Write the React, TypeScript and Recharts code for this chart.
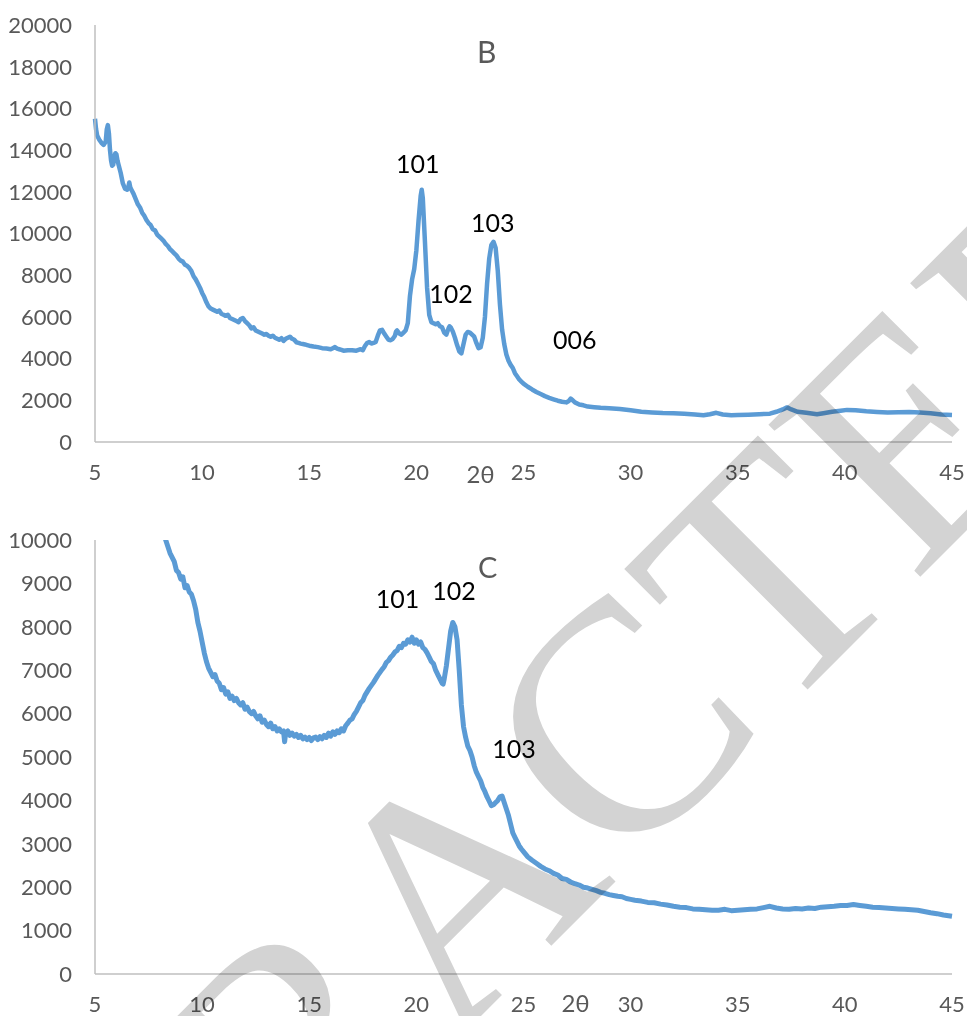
import React from "react";
import { LineChart, Line, XAxis, YAxis, ReferenceDot } from "recharts";

// Sample B diffractogram (2θ in degrees, intensity in counts)
const bAngle = [
  5.0, 5.05, 5.1, 5.2, 5.3, 5.4, 5.5, 5.55, 5.6, 5.65, 5.7, 5.75, 5.8, 5.85, 5.9, 5.95, 6.0, 6.05, 6.1, 6.2,
  6.3, 6.4, 6.5, 6.55, 6.6, 6.65, 6.7, 6.8, 6.9, 7.0, 7.1, 7.2, 7.3, 7.4, 7.5, 7.6, 7.7, 7.8, 7.9, 8.0,
  8.1, 8.2, 8.3, 8.4, 8.5, 8.6, 8.7, 8.8, 8.9, 9.0, 9.1, 9.2, 9.3, 9.4, 9.5, 9.6, 9.7, 9.8, 9.9, 10.0,
  10.1, 10.2, 10.3, 10.4, 10.5, 10.6, 10.7, 10.8, 10.9, 11.0, 11.1, 11.2, 11.3, 11.4, 11.5, 11.6, 11.7, 11.8, 11.9, 12.0,
  12.1, 12.2, 12.3, 12.4, 12.5, 12.6, 12.7, 12.8, 12.9, 13.0, 13.1, 13.2, 13.3, 13.4, 13.5, 13.6, 13.7, 13.8, 13.9, 14.0,
  14.1, 14.2, 14.3, 14.4, 14.5, 14.6, 14.7, 14.8, 14.9, 15.0, 15.2, 15.4, 15.6, 15.8, 16.0, 16.1, 16.2, 16.3, 16.4, 16.5,
  16.6, 16.8, 17.0, 17.2, 17.4, 17.5, 17.6, 17.7, 17.8, 17.9, 18.0, 18.1, 18.2, 18.3, 18.4, 18.5, 18.6, 18.7, 18.8, 18.9,
  19.0, 19.05, 19.1, 19.2, 19.3, 19.4, 19.5, 19.6, 19.7, 19.8, 19.9, 20.0, 20.1, 20.2, 20.25, 20.3, 20.4, 20.5, 20.6, 20.7,
  20.8, 20.9, 21.0, 21.1, 21.2, 21.3, 21.4, 21.5, 21.55, 21.6, 21.7, 21.8, 21.9, 22.0, 22.1, 22.2, 22.3, 22.4, 22.5, 22.6,
  22.7, 22.8, 22.9, 23.0, 23.1, 23.2, 23.3, 23.4, 23.5, 23.6, 23.7, 23.8, 23.9, 24.0, 24.1, 24.2, 24.3, 24.4, 24.5, 24.6,
  24.7, 24.8, 24.9, 25.0, 25.2, 25.4, 25.6, 25.8, 26.0, 26.2, 26.4, 26.6, 26.8, 27.0, 27.1, 27.2, 27.3, 27.4, 27.6, 27.8,
  28.0, 28.3, 28.6, 29.0, 29.5, 30.0, 30.5, 31.0, 31.5, 32.0, 32.5, 33.0, 33.4, 33.7, 34.0, 34.3, 34.7, 35.0, 35.5, 36.0,
  36.5, 36.8, 37.1, 37.3, 37.5, 37.8, 38.2, 38.7, 39.0, 39.4, 39.8, 40.1, 40.5, 41.0, 41.5, 42.0, 42.5, 43.0, 43.5, 44.0,
  44.5, 45.0,
];
const bCounts = [
  15500, 15000, 14700, 14500, 14350, 14250, 14400, 15000, 15200, 14800, 14000, 13500, 13250, 13300, 13700, 13850, 13800, 13500, 13300, 12900,
  12400, 12150, 12100, 12200, 12450, 12200, 12100, 11900, 11650, 11400, 11250, 11000, 10850, 10650, 10500, 10400, 10200, 10150, 9950, 9850,
  9750, 9650, 9500, 9400, 9250, 9150, 9050, 8950, 8800, 8700, 8650, 8500, 8450, 8350, 8200, 7950, 7800, 7600, 7400, 7150,
  6950, 6700, 6500, 6400, 6350, 6300, 6250, 6300, 6150, 6100, 6050, 6100, 5950, 5900, 5850, 5800, 5750, 5900, 5950, 5800,
  5700, 5600, 5450, 5500, 5350, 5300, 5250, 5200, 5150, 5180, 5100, 5050, 5100, 5000, 4950, 4900, 4980, 4850, 4950, 5000,
  5050, 4950, 4900, 4780, 4750, 4720, 4700, 4680, 4650, 4620, 4580, 4550, 4500, 4480, 4450, 4500, 4550, 4480, 4450, 4420,
  4380, 4400, 4400, 4380, 4450, 4400, 4600, 4750, 4800, 4720, 4750, 4800, 5100, 5350, 5380, 5200, 5050, 4900, 4880, 4950,
  5100, 5300, 5350, 5200, 5150, 5250, 5350, 5700, 7000, 7800, 8300, 9200, 10600, 11800, 12100, 11700, 9600, 7400, 6100, 5750,
  5700, 5650, 5700, 5550, 5500, 5250, 5150, 5450, 5550, 5500, 5300, 5000, 4650, 4350, 4250, 4700, 5150, 5280, 5250, 5150,
  5050, 4750, 4500, 4550, 5000, 6000, 7600, 8800, 9450, 9600, 9300, 8200, 6600, 5400, 4700, 4200, 3900, 3700, 3550, 3300,
  3150, 3000, 2900, 2800, 2650, 2520, 2400, 2300, 2200, 2120, 2050, 1980, 1930, 1900, 1950, 2080, 2000, 1900, 1800, 1760,
  1700, 1670, 1640, 1620, 1580, 1520, 1450, 1420, 1390, 1380, 1360, 1320, 1280, 1330, 1400, 1320, 1280, 1290, 1310, 1330,
  1360, 1450, 1560, 1660, 1560, 1450, 1400, 1330, 1380, 1450, 1500, 1540, 1520, 1470, 1440, 1420, 1430, 1440, 1410, 1380,
  1320, 1300,
];

// Sample C diffractogram; the low-angle tail runs above the 10000 ceiling and is clipped
const cAngle = [
  7.5, 7.8, 8.0, 8.2, 8.3, 8.4, 8.5, 8.6, 8.7, 8.8, 8.9, 9.0, 9.1, 9.2, 9.3, 9.4, 9.5, 9.6, 9.7, 9.8,
  9.9, 10.0, 10.1, 10.2, 10.3, 10.4, 10.5, 10.6, 10.7, 10.8, 10.9, 11.0, 11.1, 11.2, 11.3, 11.4, 11.5, 11.6, 11.7, 11.8,
  11.9, 12.0, 12.1, 12.2, 12.3, 12.4, 12.5, 12.6, 12.7, 12.8, 12.9, 13.0, 13.1, 13.2, 13.3, 13.4, 13.5, 13.6, 13.7, 13.8,
  13.85, 13.9, 14.0, 14.1, 14.2, 14.3, 14.4, 14.5, 14.6, 14.7, 14.8, 14.9, 15.0, 15.1, 15.2, 15.3, 15.4, 15.5, 15.6, 15.7,
  15.8, 15.9, 16.0, 16.1, 16.2, 16.3, 16.4, 16.5, 16.6, 16.7, 16.8, 16.9, 17.0, 17.1, 17.2, 17.3, 17.4, 17.5, 17.6, 17.7,
  17.8, 17.9, 18.0, 18.1, 18.2, 18.3, 18.4, 18.5, 18.6, 18.7, 18.8, 18.9, 19.0, 19.1, 19.2, 19.3, 19.4, 19.5, 19.6, 19.7,
  19.8, 19.9, 20.0, 20.1, 20.2, 20.3, 20.4, 20.5, 20.6, 20.7, 20.8, 20.9, 21.0, 21.1, 21.2, 21.25, 21.3, 21.4, 21.5, 21.6,
  21.7, 21.8, 21.9, 22.0, 22.1, 22.2, 22.3, 22.4, 22.5, 22.6, 22.7, 22.8, 22.9, 23.0, 23.1, 23.2, 23.3, 23.4, 23.5, 23.6,
  23.7, 23.8, 23.9, 24.0, 24.1, 24.2, 24.3, 24.4, 24.5, 24.6, 24.7, 24.8, 24.9, 25.0, 25.2, 25.4, 25.6, 25.8, 26.0, 26.2,
  26.4, 26.6, 26.8, 27.0, 27.2, 27.4, 27.6, 27.8, 28.0, 28.2, 28.4, 28.6, 28.8, 29.0, 29.2, 29.4, 29.6, 29.8, 30.0, 30.2,
  30.5, 30.8, 31.1, 31.4, 31.7, 32.0, 32.3, 32.6, 32.9, 33.2, 33.5, 33.8, 34.1, 34.4, 34.7, 35.0, 35.3, 35.6, 35.9, 36.2,
  36.5, 36.8, 37.1, 37.4, 37.7, 38.0, 38.3, 38.6, 38.9, 39.2, 39.5, 39.8, 40.1, 40.4, 40.7, 41.0, 41.3, 41.6, 41.9, 42.2,
  42.5, 42.8, 43.1, 43.4, 43.7, 44.0, 44.3, 44.6, 45.0,
];
const cCounts = [
  11600, 10900, 10500, 10150, 10000, 9850, 9700, 9600, 9500, 9300, 9250, 9100, 9150, 8900, 8950, 8800, 8750, 8600, 8400, 8100,
  7900, 7650, 7400, 7200, 7050, 6950, 6850, 6900, 6750, 6700, 6550, 6600, 6450, 6500, 6350, 6400, 6300, 6350, 6250, 6200,
  6250, 6100, 6150, 6050, 6000, 6050, 5950, 5880, 5950, 5800, 5850, 5750, 5700, 5780, 5650, 5700, 5600, 5650, 5580, 5600,
  5350, 5550, 5600, 5500, 5550, 5480, 5520, 5450, 5500, 5420, 5460, 5400, 5450, 5380, 5440, 5460, 5400, 5470, 5420, 5500,
  5450, 5550, 5480, 5580, 5520, 5600, 5560, 5650, 5600, 5720, 5780, 5850, 5880, 5980, 6050, 6150, 6250, 6300, 6420, 6500,
  6580, 6650, 6720, 6800, 6880, 6950, 7020, 7080, 7180, 7220, 7300, 7350, 7420, 7450, 7550, 7520, 7620, 7600, 7700, 7650,
  7760, 7620, 7700, 7600, 7650, 7520, 7480, 7400, 7300, 7200, 7150, 7000, 6900, 6800, 6700, 6680, 6800, 7100, 7500, 7900,
  8100, 8000, 7700, 7000, 6200, 5700, 5450, 5250, 5150, 5000, 4800, 4650, 4550, 4450, 4300, 4200, 4080, 3980, 3880, 3900,
  3950, 4000, 4080, 4100, 3950, 3800, 3650, 3450, 3250, 3150, 3050, 2950, 2880, 2820, 2700, 2620, 2550, 2480, 2420, 2380,
  2320, 2280, 2200, 2180, 2120, 2080, 2050, 2000, 1980, 1950, 1920, 1880, 1860, 1830, 1810, 1790, 1780, 1740, 1720, 1700,
  1680, 1650, 1640, 1610, 1590, 1560, 1540, 1530, 1500, 1490, 1480, 1470, 1470, 1490, 1460, 1470, 1480, 1490, 1500, 1530,
  1560, 1520, 1500, 1490, 1510, 1500, 1520, 1510, 1540, 1550, 1560, 1580, 1580, 1600, 1580, 1560, 1540, 1530, 1520, 1510,
  1500, 1490, 1480, 1470, 1440, 1410, 1390, 1360, 1330,
];

const angleTicks = [5, 10, 15, 20, 25, 30, 35, 40, 45];
const bTicks = [0, 2000, 4000, 6000, 8000, 10000, 12000, 14000, 16000, 18000, 20000];
const cTicks = [0, 1000, 2000, 3000, 4000, 5000, 6000, 7000, 8000, 9000, 10000];

// Miller-index annotations: [label, 2θ, counts]
const bPeaks: [string, number, number][] = [
  ["101", 20.06, 13330],
  ["102", 21.62, 7090],
  ["103", 23.56, 10520],
  ["006", 27.39, 4880],
];
const cPeaks: [string, number, number][] = [
  ["101", 19.12, 8640],
  ["102", 21.76, 8825],
  ["103", 24.56, 5185],
];

const bData = bAngle.map((angle, i) => ({ angle, counts: bCounts[i] }));
const cData = cAngle.map((angle, i) => ({ angle, counts: cCounts[i] }));

const FONT = "Lato, 'Open Sans', sans-serif";
const AXIS = "#bfbfbf";
const TEXT = "#595959";
const LINE = "#5b9bd5";

function Pattern({
  data,
  peaks,
  yTicks,
  yMax,
  height,
  marginTop,
  marginBottom,
  titleDx,
  titleDy,
  strokeWidth,
}: {
  data: { angle: number; counts: number }[];
  peaks: [string, number, number][];
  yTicks: number[];
  yMax: number;
  height: number;
  marginTop: number;
  marginBottom: number;
  titleDx: number;
  titleDy: number;
  strokeWidth: number;
}) {
  return (
    <LineChart
      width={967}
      height={height}
      data={data}
      margin={{ top: marginTop, right: 15, left: 15, bottom: marginBottom }}
    >
      <XAxis
        dataKey="angle"
        type="number"
        domain={[5, 45]}
        ticks={angleTicks}
        height={30}
        stroke={AXIS}
        strokeWidth={1.5}
        tickLine={false}
        tickSize={0}
        tickMargin={22}
        tick={{ fill: TEXT, fontSize: 22, fontFamily: FONT }}
        label={{
          value: "2θ",
          position: "insideTop",
          dx: titleDx,
          dy: titleDy,
          fill: TEXT,
          fontSize: 24,
          fontFamily: FONT,
        }}
      />
      <YAxis
        type="number"
        domain={[0, yMax]}
        ticks={yTicks}
        allowDataOverflow
        width={80}
        stroke={AXIS}
        strokeWidth={1.5}
        tickLine={false}
        tickSize={0}
        tickMargin={23}
        tick={{ fill: TEXT, fontSize: 22, fontFamily: FONT }}
      />
      <Line
        type="linear"
        dataKey="counts"
        stroke={LINE}
        strokeWidth={strokeWidth}
        strokeLinejoin="round"
        dot={false}
        isAnimationActive={false}
      />
      {peaks.map(([name, x, y]) => (
        <ReferenceDot
          key={name}
          x={x}
          y={y}
          r={0}
          fill="none"
          stroke="none"
          label={{ value: name, position: "center", fill: "#000000", fontSize: 25, fontFamily: FONT }}
        />
      ))}
    </LineChart>
  );
}

export default function App() {
  return (
    <div
      style={{
        position: "absolute",
        left: 0,
        top: 0,
        width: 967,
        height: 1016,
        background: "#ffffff",
        overflow: "hidden",
        fontFamily: FONT,
      }}
    >
      <div style={{ position: "absolute", left: 0, top: 0 }}>
        <Pattern
          data={bData}
          peaks={bPeaks}
          yTicks={bTicks}
          yMax={20000}
          height={490}
          marginTop={25}
          marginBottom={18}
          titleDx={-43}
          titleDy={19}
          strokeWidth={4.5}
        />
      </div>
      <div style={{ position: "absolute", left: 0, top: 500 }}>
        <Pattern
          data={cData}
          peaks={cPeaks}
          yTicks={cTicks}
          yMax={10000}
          height={516}
          marginTop={40}
          marginBottom={12}
          titleDx={52}
          titleDy={16}
          strokeWidth={5}
        />
      </div>
      <div style={{ position: "absolute", left: 477, top: 33, fontSize: 30, color: TEXT, lineHeight: "36px" }}>B</div>
      <div style={{ position: "absolute", left: 478, top: 549, fontSize: 29, color: TEXT, lineHeight: "36px" }}>C</div>
      <svg
        width={967}
        height={1016}
        style={{ position: "absolute", left: 0, top: 0, pointerEvents: "none", mixBlendMode: "multiply" }}
      >
        <text
          x={-143}
          y={1640}
          transform="rotate(-45 -143 1640)"
          fontFamily="'Liberation Serif', 'DejaVu Serif', serif"
          fontSize={328}
          fill="#d3d3d3"
        >
          RETRACTED
        </text>
      </svg>
    </div>
  );
}
